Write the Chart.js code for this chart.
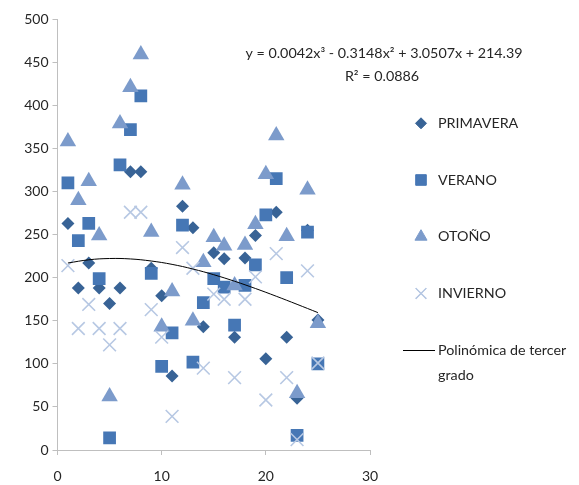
<!DOCTYPE html>
<html>
<head>
<meta charset="utf-8">
<script src="https://cdn.jsdelivr.net/npm/chart.js@4.4.1/dist/chart.umd.min.js"></script>
<style>
  html, body { margin: 0; padding: 0; background: #fff; }
  #wrap { width: 579px; height: 485px; position: relative; }
</style>
</head>
<body>
<div id="wrap"><canvas id="c"></canvas></div>
<script>
// ----- data -----
const xs = [1,2,3,4,5,6,7,8,9,10,11,12,13,14,15,16,17,18,19,20,21,22,23,24,25];
const primavera = [263,188,217,188,170,188,323,323,211,179,86,283,258,143,229,222,131,223,249,106,276,131,60,255,151];
const verano    = [310,243,263,199,14,331,372,411,205,97,136,261,102,171,199,189,145,191,215,273,315,200,17,253,100];
const otono     = [358,290,312,249,62,379,421,459,253,143,184,308,150,218,247,237,191,238,262,320,365,248,66,302,147];
const invierno  = [214,141,169,141,122,141,276,276,163,131,39,235,211,95,181,175,84,175,201,58,228,84,12,208,101];
// trend curve
const trendX = [1,3,5,7,9,11,13,15,17,19,21,23,25];
const trendY = [217.1,220.8,222.3,221.8,219.4,215.5,210.1,203.5,195.9,187.5,178.5,169.1,159.5];
const xTicks = [0,10,20,30];
const eqText = 'y = 0.0042x³ - 0.3148x² + 3.0507x + 214.39';
const r2Text = 'R² = 0.0886';

const FONT = 'Lato, "Open Sans", sans-serif';
const TXT = '#262626';
const AXIS = '#BFBFBF';

const pts = ys => xs.map((x,i) => ({x, y: ys[i]}));

const SERIES = [
  {label:'PRIMAVERA', data:primavera, style:'rectRot', color:'#386396', r:6.5, lr:5.5, order:4},
  {label:'VERANO',    data:verano,    style:'rect',    color:'#4677B5', r:9,   lr:7.5, order:3},
  {label:'OTOÑO',     data:otono,     style:'triangle',color:'#7C9BCB', r:9.5, lr:7,   order:2},
  {label:'INVIERNO',  data:invierno,  style:'crossRot',color:'#B7C8E3', r:9,   lr:7.5, order:1},
];

const datasets = SERIES.map(s => ({
  type: 'scatter',
  label: s.label,
  data: pts(s.data),
  pointStyle: s.style,
  pointRadius: s.r,
  pointHoverRadius: s.r,
  backgroundColor: s.color,
  borderColor: s.color,
  pointBorderWidth: s.style === 'crossRot' ? 1.6 : 0,
  order: s.order,
}));
datasets.push({
  type: 'line',
  label: 'Polinómica de tercer grado',
  data: trendX.map((x,i) => ({x, y: trendY[i]})),
  borderColor: '#000',
  borderWidth: 1,
  pointRadius: 0,
  tension: 0.4,
  fill: false,
  order: 0,
});

// legend + equation drawn by hand, Excel style
const sideLegend = {
  id: 'sideLegend',
  afterDraw(chart){
    const ctx = chart.ctx;
    ctx.save();
    ctx.font = '14.3px ' + FONT;
    ctx.fillStyle = TXT;
    ctx.textBaseline = 'middle';
    ctx.textAlign = 'left';
    SERIES.forEach((s,i) => {
      const y = 123.3 + i*56.7;
      ctx.fillStyle = s.color;
      ctx.strokeStyle = s.color;
      ctx.lineWidth = s.style === 'crossRot' ? 1.2 : 0;
      Chart.helpers.drawPoint(ctx, {pointStyle:s.style, radius:s.lr, rotation:0, borderWidth:ctx.lineWidth}, 421, y);
      if (s.style === 'crossRot') ctx.stroke();
      ctx.fillStyle = TXT;
      ctx.fillText(s.label, 438, y);
    });
    // trend line entry
    ctx.strokeStyle = '#000';
    ctx.lineWidth = 1;
    ctx.beginPath();
    ctx.moveTo(403, 350.5); ctx.lineTo(435, 350.5);
    ctx.stroke();
    ctx.fillText('Polinómica de tercer', 438, 350);
    ctx.fillText('grado', 438, 375);
    // equation
    ctx.textAlign = 'center';
    ctx.fillText(eqText, 384, 53);
    ctx.fillText(r2Text, 382, 76);
    ctx.restore();
  }
};

new Chart(document.getElementById('c'), {
  data: { datasets },
  options: {
    responsive: true,
    maintainAspectRatio: false,
    animation: false,
    layout: { padding: { top: 19.3, right: 209, bottom: 0, left: 0 } },
    plugins: { legend: { display: false }, tooltip: { enabled: false } },
    scales: {
      x: {
        type: 'linear', min: 0, max: 30,
        afterBuildTicks: sc => { sc.ticks = xTicks.map(v => ({value: v})); },
        afterFit: sc => { sc.height = 35; },
        grid: { drawOnChartArea: false, drawTicks: true, tickLength: 5, color: AXIS },
        border: { color: AXIS, width: 1 },
        ticks: { color: TXT, font: { family: FONT, size: 14 }, padding: 13 },
      },
      y: {
        type: 'linear', min: 0, max: 500,
        ticks: { stepSize: 50, color: TXT, font: { family: FONT, size: 14 }, padding: 4 },
        afterFit: sc => { sc.width = 57.5; },
        grid: { drawOnChartArea: false, drawTicks: true, tickLength: 5, color: AXIS },
        border: { color: AXIS, width: 1 },
      },
    },
  },
  plugins: [sideLegend],
});
</script>
</body>
</html>
